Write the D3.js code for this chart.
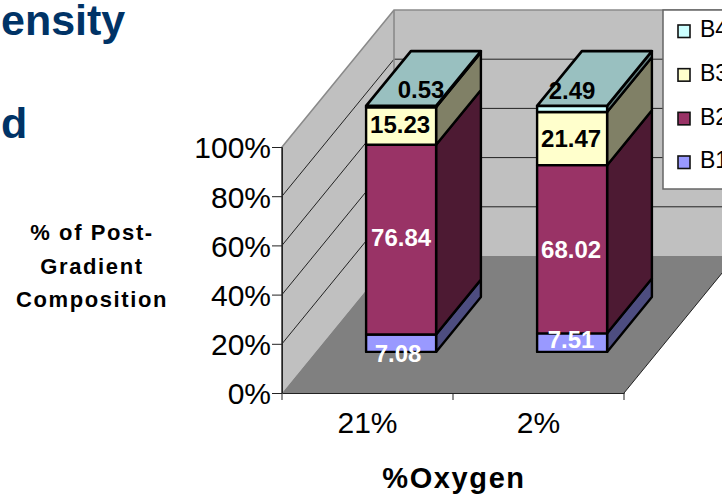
<!DOCTYPE html>
<html>
<head>
<meta charset="utf-8">
<script src="https://cdn.jsdelivr.net/npm/d3@7"></script>
<style>
html, body { margin: 0; padding: 0; background: #fff; overflow: hidden; }
svg { display: block; font-family: "Liberation Sans", Arial, sans-serif; }
</style>
</head>
<body>
<svg id="chart" width="722" height="495"></svg>
<script>
const categories = ["21%", "2%"];
const seriesNames = ["B1", "B2", "B3", "B4"];
const b1Values = [7.08, 7.51];
const b2Values = [76.84, 68.02];
const b3Values = [15.23, 21.47];
const b4Values = [0.53, 2.49];
const yTicks = [0, 0.2, 0.4, 0.6, 0.8, 1];
const titleLines = ["ensity", "d"];
const yTitleLines = ["% of Post-", "Gradient", "Composition"];
const xTitle = "%Oxygen";

const front = ["#9999ff", "#993366", "#ffffcc", "#ccffff"];
const side = ["#4d4d80", "#4d1a33", "#808066", "#668080"];
const topFace = "#99c0c0";

const svg = d3.select("#chart");

const x = d3.scaleBand().domain(categories).range([282, 624]);
const y = d3.scaleLinear().domain([0, 1]).range([393, 147]);

// oblique projection, t is depth from 0 (front) to 1 (back)
const depthX = 112, depthY = 137;
const px = (v, t) => v + depthX * t;
const py = (v, t) => y(v) - depthY * t;
const poly = pts => "M" + pts.map(p => p.join(",")).join("L") + "Z";

const x0 = x.range()[0], x1 = x.range()[1];

// walls and floor
svg.append("path")
   .attr("d", poly([[px(x0, 1), py(1, 1)], [px(x1, 1), py(1, 1)], [px(x1, 1), py(0, 1)], [px(x0, 1), py(0, 1)]]))
   .attr("fill", "#c0c0c0");
svg.append("path")
   .attr("d", poly([[px(x0, 0), py(1, 0)], [px(x0, 1), py(1, 1)], [px(x0, 1), py(0, 1)], [px(x0, 0), py(0, 0)]]))
   .attr("fill", "#c0c0c0");
svg.append("path")
   .attr("d", poly([[px(x0, 0), py(0, 0)], [px(x1, 0), py(0, 0)], [px(x1, 1), py(0, 1)], [px(x0, 1), py(0, 1)]]))
   .attr("fill", "#808080")
   .attr("stroke", "none");

// gridlines
yTicks.slice(1, -1).forEach(function (v) {
    svg.append("path")
       .attr("d", "M" + px(x0, 0) + "," + py(v, 0) + "L" + px(x0, 1) + "," + py(v, 1) + "L" + px(x1, 1) + "," + py(v, 1))
       .attr("fill", "none")
       .attr("stroke", "#222")
       .attr("stroke-width", 1);
});

// grey wall edges
svg.append("path")
   .attr("d", "M" + px(x0, 0) + "," + py(0, 0) + "L" + px(x0, 0) + "," + py(1, 0) + "L" + px(x0, 1) + "," + py(1, 1) + "L" + px(x1, 1) + "," + py(1, 1))
   .attr("fill", "none")
   .attr("stroke", "#8a8a8a")
   .attr("stroke-width", 1.6);
svg.append("path")
   .attr("d", "M" + px(x0, 1) + "," + py(1, 1) + "L" + px(x0, 1) + "," + py(0, 1))
   .attr("fill", "none")
   .attr("stroke", "#8a8a8a")
   .attr("stroke-width", 1.6);
svg.append("path")
   .attr("d", "M" + px(x0, 0) + "," + py(0, 0) + "L" + px(x0, 0) + "," + py(1, 0) + "M" + px(x1, 0) + "," + py(0, 0) + "L" + px(x1, 1) + "," + py(0, 1))
   .attr("fill", "none")
   .attr("stroke", "#222")
   .attr("stroke-width", 1);

// stacked 100% bars
const rows = categories.map(function (c, i) {
    return {cat: c, B1: b1Values[i], B2: b2Values[i], B3: b3Values[i], B4: b4Values[i]};
});
const stacked = d3.stack().keys(seriesNames).offset(d3.stackOffsetExpand)(rows);

const barWidth = 70, depthStart = 0.3, depthEnd = 0.7;
const barsG = svg.append("g").attr("stroke", "#000").attr("stroke-width", 2.4).attr("stroke-linejoin", "round");

categories.forEach(function (c, i) {
    const left = x(c) + x.bandwidth() / 2 - barWidth / 2;
    const right = left + barWidth;
    stacked.forEach(function (s, si) {
        const lo = s[i][0], hi = s[i][1];
        barsG.append("path")
             .attr("d", poly([[px(right, depthStart), py(lo, depthStart)], [px(right, depthEnd), py(lo, depthEnd)],
                              [px(right, depthEnd), py(hi, depthEnd)], [px(right, depthStart), py(hi, depthStart)]]))
             .attr("fill", side[si]);
        barsG.append("path")
             .attr("d", poly([[px(left, depthStart), py(lo, depthStart)], [px(right, depthStart), py(lo, depthStart)],
                              [px(right, depthStart), py(hi, depthStart)], [px(left, depthStart), py(hi, depthStart)]]))
             .attr("fill", front[si]);
    });
    barsG.append("path")
         .attr("d", poly([[px(left, depthStart), py(1, depthStart)], [px(right, depthStart), py(1, depthStart)],
                          [px(right, depthEnd), py(1, depthEnd)], [px(left, depthEnd), py(1, depthEnd)]]))
         .attr("fill", topFace)
         .attr("stroke-width", 2.6);
});

// data labels, hand placed in the original so a few are nudged off the segment middle
function nudge(si, i) {
    if (si === 3) return i === 0 ? [20, -17] : [0, -19];
    if (si === 0) return i === 0 ? [-3, 10] : [-1, -3];
    if (si === 1) return i === 0 ? [0, -2] : [-1, 0];
    return i === 0 ? [-1, -2] : [-1, 0];
}
stacked.forEach(function (s, si) {
    categories.forEach(function (c, i) {
        const n = nudge(si, i);
        const val = [b1Values, b2Values, b3Values, b4Values][si][i];
        svg.append("text")
           .attr("x", px(x(c) + x.bandwidth() / 2, depthStart) + n[0])
           .attr("y", py((s[i][0] + s[i][1]) / 2, depthStart) + n[1])
           .attr("dy", "0.36em")
           .attr("text-anchor", "middle")
           .attr("font-size", 24)
           .attr("font-weight", "bold")
           .attr("fill", si < 2 ? "#fff" : "#000")
           .text(val.toFixed(2));
    });
});

// axes
const yAxis = svg.append("g")
    .attr("transform", "translate(" + x0 + ",0)")
    .call(d3.axisLeft(y).tickValues(yTicks).tickFormat(d3.format(".0%")).tickSize(10).tickPadding(1).tickSizeOuter(0));
yAxis.select(".domain").attr("stroke", "#222");
yAxis.selectAll("line").attr("stroke", "#222");
yAxis.selectAll("text").attr("font-size", 30).attr("dy", "0.36em").attr("font-family", "Liberation Sans, Arial, sans-serif").attr("fill", "#000");

const xLabels = svg.append("g")
    .attr("transform", "translate(0," + y(0) + ")")
    .call(d3.axisBottom(x).tickSize(0).tickPadding(19));
xLabels.select(".domain").attr("stroke", "#222");
xLabels.selectAll("text").attr("font-size", 30).attr("font-family", "Liberation Sans, Arial, sans-serif").attr("fill", "#000");

// category ticks sit on the band edges
svg.append("g")
   .selectAll("line")
   .data(categories.concat(["end"]))
   .join("line")
   .attr("x1", (d, i) => x0 + i * x.step())
   .attr("x2", (d, i) => x0 + i * x.step())
   .attr("y1", y(0))
   .attr("y2", y(0) + 7)
   .attr("stroke", "#222");

// axis titles
yTitleLines.forEach(function (t, i) {
    svg.append("text")
       .attr("x", 92)
       .attr("y", 240 + i * 33.5)
       .attr("text-anchor", "middle")
       .attr("font-size", 22)
       .attr("letter-spacing", 1.6)
       .attr("font-weight", "bold")
       .attr("fill", "#000")
       .text(t);
});
svg.append("text")
   .attr("x", 454)
   .attr("y", 488)
   .attr("text-anchor", "middle")
   .attr("font-size", 29)
   .attr("letter-spacing", 1.6)
   .attr("font-weight", "bold")
   .attr("fill", "#000")
   .text(xTitle);

// cut off slide title
titleLines.forEach(function (t, i) {
    svg.append("text")
       .attr("x", 1)
       .attr("y", 35 + i * 103)
       .attr("font-size", 43)
       .attr("font-weight", "bold")
       .attr("fill", "#003366")
       .text(t);
});

// legend, runs off the right side
const legend = svg.append("g");
legend.append("rect")
      .attr("x", 663).attr("y", 10)
      .attr("width", 80).attr("height", 179)
      .attr("fill", "#fff")
      .attr("stroke", "#666")
      .attr("stroke-width", 1.5);
const legendY = d3.scalePoint().domain(seriesNames.slice().reverse()).range([31, 162]);
seriesNames.forEach(function (name, si) {
    legend.append("rect")
          .attr("x", 678).attr("y", legendY(name) - 6)
          .attr("width", 12).attr("height", 12.5)
          .attr("fill", front[si])
          .attr("stroke", "#111")
          .attr("stroke-width", 1.6);
    legend.append("text")
          .attr("x", 700).attr("y", legendY(name) - 2)
          .attr("dy", "0.36em")
          .attr("font-size", 23)
          .attr("fill", "#000")
          .text(name);
});
</script>
</body>
</html>
